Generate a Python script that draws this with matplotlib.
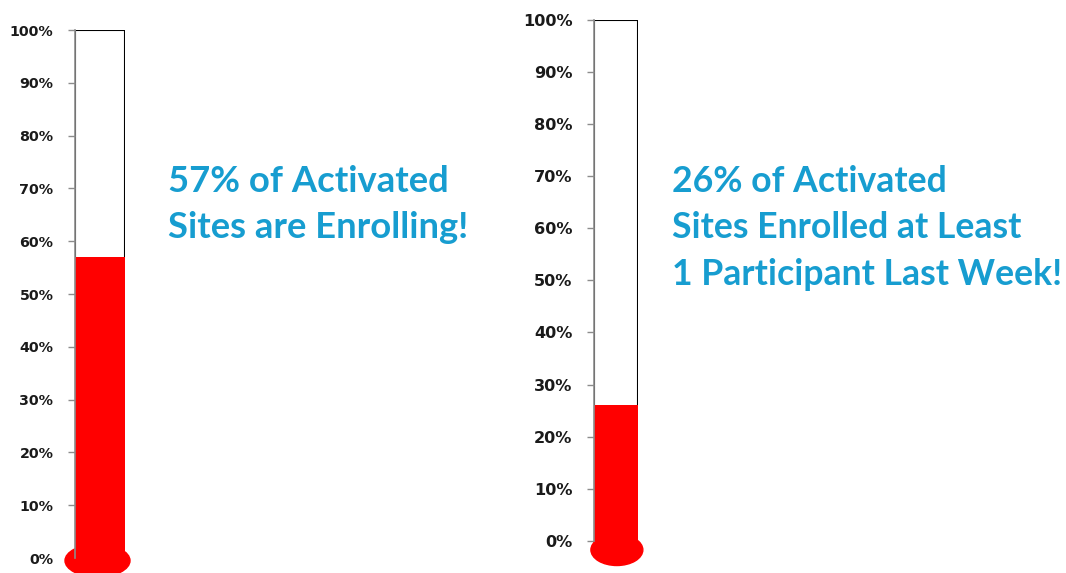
import matplotlib
matplotlib.use("Agg")
import matplotlib.pyplot as plt
from matplotlib.patches import Ellipse
from matplotlib.ticker import PercentFormatter

# data
pct_values = [0.57, 0.26]
tick_vals = [0, 0.1, 0.2, 0.3, 0.4, 0.5, 0.6, 0.7, 0.8, 0.9, 1.0]
captions = [
    ["57% of Activated", "Sites are Enrolling!"],
    ["26% of Activated", "Sites Enrolled at Least", "1 Participant Last Week!"],
]

W, H = 1066, 573
fig = plt.figure(figsize=(W / 100, H / 100), dpi=100)

# axes boxes in pixels: left x, top y (100%), width, bottom y (0%)
boxes = [(75, 30, 50, 558), (594, 19.5, 44, 541)]
bulbs = [(0.45, -0.005, 1.3, 0.062), (0.52, -0.017, 1.18, 0.06)]
label_sizes = [10.3, 11.6]
text_x = [168, 672]
text_sizes = [26.2, 25.7]

blue = "#179dd0"
red = "#ff0000"

for i, val in enumerate(pct_values):
    x0, ytop, w, ybot = boxes[i]
    ax = fig.add_axes([x0 / W, (H - ybot) / H, w / W, (ybot - ytop) / H])
    ax.set_xlim(0, 1)
    ax.set_ylim(0, 1)
    ax.bar(0.5, 1.0, width=1.0, color="white", edgecolor="black", linewidth=1.5, zorder=1)
    ax.bar(0.5, val, width=1.0, color=red, linewidth=0, zorder=2)
    bx, by, bw, bh = bulbs[i]
    ax.add_patch(Ellipse((bx, by), bw, bh, color=red, clip_on=False, zorder=3))
    for s in ["top", "right", "bottom"]:
        ax.spines[s].set_visible(False)
    ax.spines["left"].set_color("#8c8c8c")
    ax.spines["left"].set_linewidth(1.2)
    ax.spines["left"].set_zorder(4)
    ax.set_xticks([])
    ax.set_yticks(tick_vals)
    ax.yaxis.set_major_formatter(PercentFormatter(1.0, decimals=0))
    ax.tick_params(axis="y", direction="out", length=5, width=1, color="#8c8c8c",
                   pad=10.5, labelsize=label_sizes[i], labelcolor="#1a1a1a")
    for lab in ax.get_yticklabels():
        lab.set_fontweight("bold")
    ax.patch.set_alpha(0)

    for j, line in enumerate(captions[i]):
        yb = 192 + j * 46.5
        fig.text(text_x[i] / W, (H - yb) / H, line, color=blue, fontsize=text_sizes[i],
                 family="Lato", weight="bold", ha="left", va="baseline")

fig.savefig("out.png", dpi=100)
